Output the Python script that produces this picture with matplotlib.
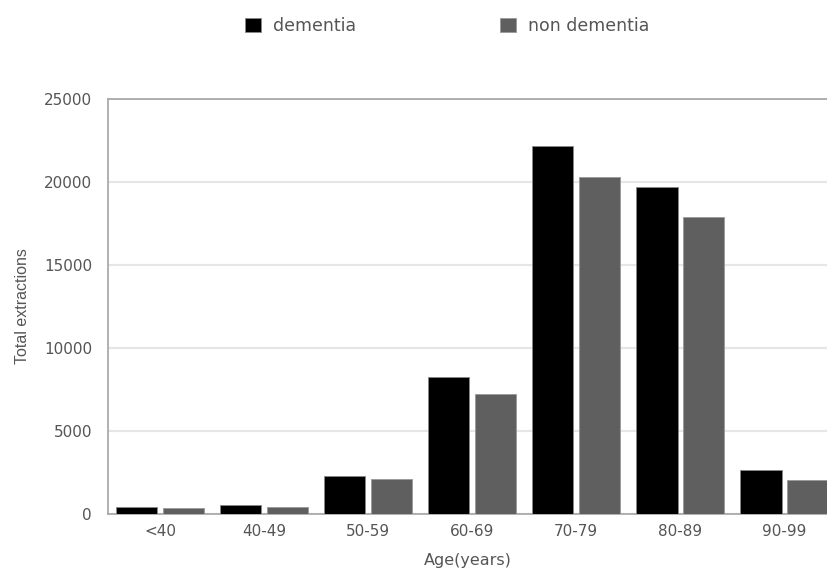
import numpy as np
import matplotlib.pyplot as plt

plt.rcParams['font.family'] = ['DejaVu Sans']

ages = ["<40", "40-49", "50-59", "60-69", "70-79", "80-89", "90-99"]
dementia = [420, 550, 2290, 8250, 22170, 19700, 2650]
non_dementia = [350, 420, 2100, 7230, 20300, 17890, 2050]

txt = "#555555"
fig = plt.figure(figsize=(8.27, 5.79), dpi=100)
ax = fig.add_axes([0.1306, 0.1123, 0.8694, 0.717])

x = np.arange(len(ages))
w = 0.395
ax.bar(x - 0.224, dementia, w, color="black", edgecolor="#888888", linewidth=0.6, label="dementia", zorder=3)
ax.bar(x + 0.224, non_dementia, w, color="#5f5f5f", edgecolor="#999999", linewidth=0.6, label="non dementia", zorder=3)

ax.set_xlim(-0.5, 6.41)
ax.set_ylim(0, 25000)
ax.set_yticks([0, 5000, 10000, 15000, 20000, 25000])
ax.set_xticks(x)
ax.set_xticklabels(ages)
ax.tick_params(length=0, colors=txt, labelsize=11)
ax.tick_params(axis="x", pad=7)
ax.tick_params(axis="y", pad=11.5)
ax.yaxis.grid(True, color="#e6e6e6", linewidth=1.5, zorder=0)
for s in ["left", "top", "bottom"]:
    ax.spines[s].set_color("#aaaaaa")
    ax.spines[s].set_linewidth(1.3)
ax.spines["right"].set_visible(False)

ax.set_xlabel("Age(years)", color=txt, fontsize=11.5, labelpad=10)
ax.set_ylabel("Total extractions", color=txt, fontsize=11.5, labelpad=10,
              family="Liberation Sans")

fig.legend(loc="center", bbox_to_anchor=(0.541, 0.955), ncol=2, frameon=False,
           fontsize=12.5, labelcolor=txt, handlelength=0.92, handleheight=0.85,
           columnspacing=8.3, handletextpad=0.69)

plt.savefig("out.png")
